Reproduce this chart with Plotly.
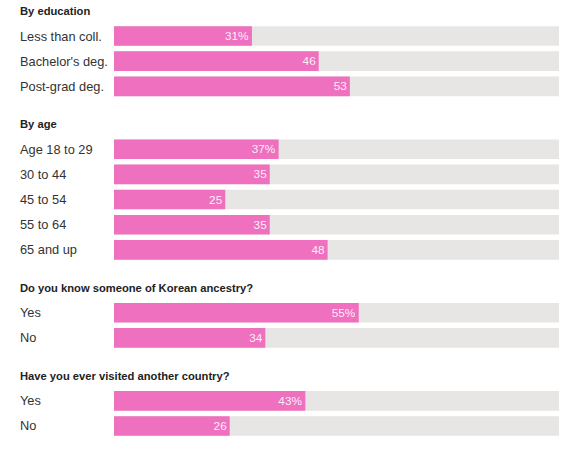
import plotly.graph_objects as go

# ---- data ----
group_titles = ["By education", "By age", "Do you know someone of Korean ancestry?",
                "Have you ever visited another country?"]
edu_labels = ["Less than coll.", "Bachelor's deg.", "Post-grad deg."]
edu_values = [31, 46, 53]
age_labels = ["Age 18 to 29", "30 to 44", "45 to 54", "55 to 64", "65 and up"]
age_values = [37, 35, 25, 35, 48]
korean_labels = ["Yes", "No"]
korean_values = [55, 34]
visited_labels = ["Yes", "No"]
visited_values = [43, 26]

groups = [(group_titles[0], edu_labels, edu_values),
          (group_titles[1], age_labels, age_values),
          (group_titles[2], korean_labels, korean_values),
          (group_titles[3], visited_labels, visited_values)]

# ---- layout positions (in row units) ----
ys, vals, labels, texts, heads = [], [], [], [], []
pos = 0.0
for gi, (title, labs, vs) in enumerate(groups):
    if gi > 0:
        pos += 1.5
    heads.append((pos, title))
    for i, (l, v) in enumerate(zip(labs, vs)):
        pos += 1
        ys.append(pos)
        vals.append(v)
        labels.append(l)
        texts.append(f"{v}%" if i == 0 else f"{v}")

PINK = "#ee70bf"
GREY = "#e8e6e5"
FONT = "Liberation Sans, Arial, sans-serif"

fig = go.Figure()
fig.add_trace(go.Bar(x=[100] * len(ys), y=ys, orientation="h", width=0.78,
                     marker=dict(color=GREY, line=dict(width=0)), hoverinfo="skip"))
fig.add_trace(go.Bar(x=vals, y=ys, orientation="h", width=0.78, text=texts,
                     textposition="inside", insidetextanchor="end", textangle=0,
                     textfont=dict(color="rgba(255,255,255,0.9)", size=13, family=FONT),
                     marker=dict(color=PINK, line=dict(width=0))))

LX = -96 / 445
ann = []
for y, l in zip(ys, labels):
    ann.append(dict(x=LX, xref="paper", y=y, yref="y", text=l, showarrow=False,
                    xanchor="left", yanchor="middle",
                    font=dict(size=12.8, color="#333333", family=FONT)))
for y, t in heads:
    ann.append(dict(x=LX, xref="paper", y=y, yref="y", text=f"<b>{t}</b>",
                    showarrow=False, xanchor="left", yanchor="middle",
                    font=dict(size=11.2, color="#222222", family=FONT)))

u = 25.16
fig.update_layout(
    width=583, height=463,
    margin=dict(l=114, r=24, t=0, b=0),
    barmode="overlay", showlegend=False,
    paper_bgcolor="white", plot_bgcolor="white",
    xaxis=dict(range=[0, 100], visible=False, fixedrange=True),
    yaxis=dict(range=[1 + 427 / u, 1 - 36 / u], visible=False, fixedrange=True),
    annotations=ann,
    uniformtext=dict(minsize=8, mode="show"),
)
fig.write_html("out.html", config={"displayModeBar": False},
               post_script="document.body.style.margin='0';")
